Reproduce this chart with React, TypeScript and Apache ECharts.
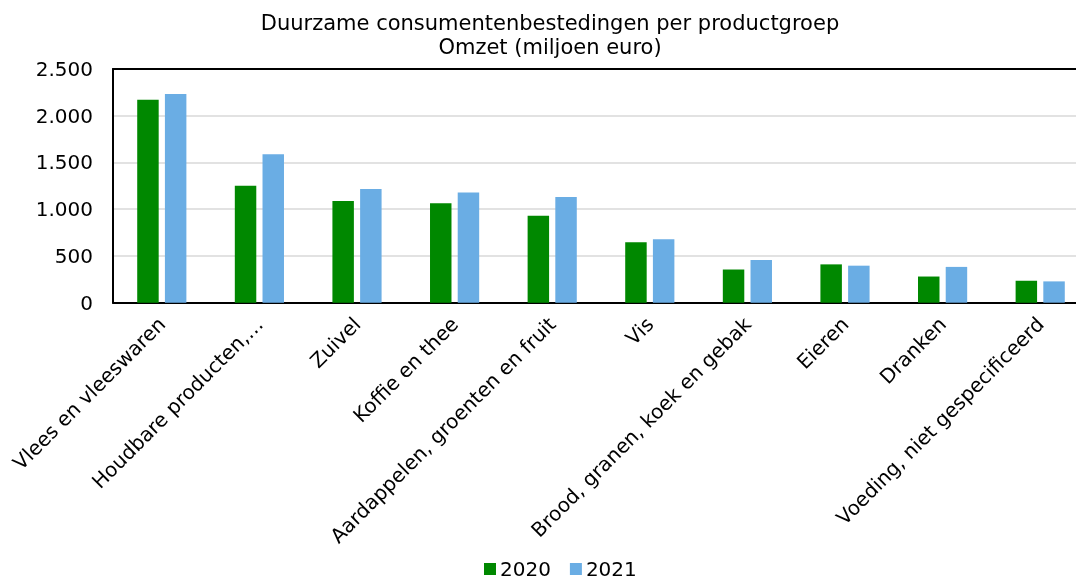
import React, { useEffect, useRef } from "react";
import * as echarts from "echarts";

const categories = [
  "Vlees en vleeswaren",
  "Houdbare producten,…",
  "Zuivel",
  "Koffie en thee",
  "Aardappelen, groenten en fruit",
  "Vis",
  "Brood, granen, koek en gebak",
  "Eieren",
  "Dranken",
  "Voeding, niet gespecificeerd",
];
const values2020 = [2170, 1250, 1088, 1065, 930, 648, 355, 410, 280, 235];
const values2021 = [2232, 1587, 1215, 1180, 1130, 680, 458, 396, 383, 228];
const seriesNames = ["2020", "2021"];
const yTicks = [0, 500, 1000, 1500, 2000, 2500];

const FONT = "DejaVu Sans";

export default function App() {
  const ref = useRef<HTMLDivElement>(null);
  useEffect(() => {
    if (!ref.current) return;
    const chart = echarts.init(ref.current, null, { renderer: "svg" });
    chart.setOption({
      animation: false,
      textStyle: { fontFamily: FONT, color: "#000" },
      title: {
        text: "Duurzame consumentenbestedingen per productgroep\nOmzet (miljoen euro)",
        left: "center",
        top: 6,
        textStyle: { fontFamily: FONT, fontSize: 21, fontWeight: "normal", color: "#000", lineHeight: 24 },
      },
      legend: {
        left: 484,
        top: 559,
        padding: 0,
        icon: "rect",
        itemWidth: 12,
        itemHeight: 12,
        itemGap: 19,
        data: seriesNames,
        textStyle: { fontFamily: FONT, fontSize: 20, color: "#000", lineHeight: 20, padding: [0, 0, 0, -1] },
      },
      grid: {
        left: 113,
        top: 69,
        width: 976,
        height: 233.7,
        containLabel: false,
      },
      xAxis: [
        {
          type: "category",
          data: categories,
          axisLine: { show: true, lineStyle: { color: "#000", width: 2 } },
          axisTick: { show: false },
          axisLabel: {
            rotate: 45,
            interval: 0,
            margin: 18,
            fontFamily: FONT,
            fontSize: 20,
            color: "#000",
          },
        },
        {
          type: "category",
          position: "top",
          data: categories,
          axisLine: { show: true, lineStyle: { color: "#000", width: 2 } },
          axisTick: { show: false },
          axisLabel: { show: false },
        },
      ],
      yAxis: {
        type: "value",
        min: 0,
        max: yTicks[yTicks.length - 1],
        interval: 500,
        axisLine: { show: true, lineStyle: { color: "#000", width: 2 } },
        axisTick: { show: false },
        splitLine: { lineStyle: { color: "#d9d9d9", width: 1.5 } },
        axisLabel: {
          margin: 20,
          fontFamily: FONT,
          fontSize: 20,
          color: "#000",
          formatter: (v: number) => v.toString().replace(/\B(?=(\d{3})+(?!\d))/g, "."),
        },
      },
      series: [
        {
          name: seriesNames[0],
          type: "bar",
          data: values2020,
          barWidth: "22%",
          barGap: "29%",
          itemStyle: { color: "#008800" },
        },
        {
          name: seriesNames[1],
          type: "bar",
          data: values2021,
          barWidth: "22%",
          itemStyle: { color: "#6aade4" },
        },
      ],
    });
    return () => chart.dispose();
  }, []);
  return (
    <div style={{ position: "fixed", left: 0, top: 0, width: 1076, height: 580, overflow: "hidden" }}>
      <div ref={ref} style={{ width: 1100, height: 580 }} />
    </div>
  );
}
